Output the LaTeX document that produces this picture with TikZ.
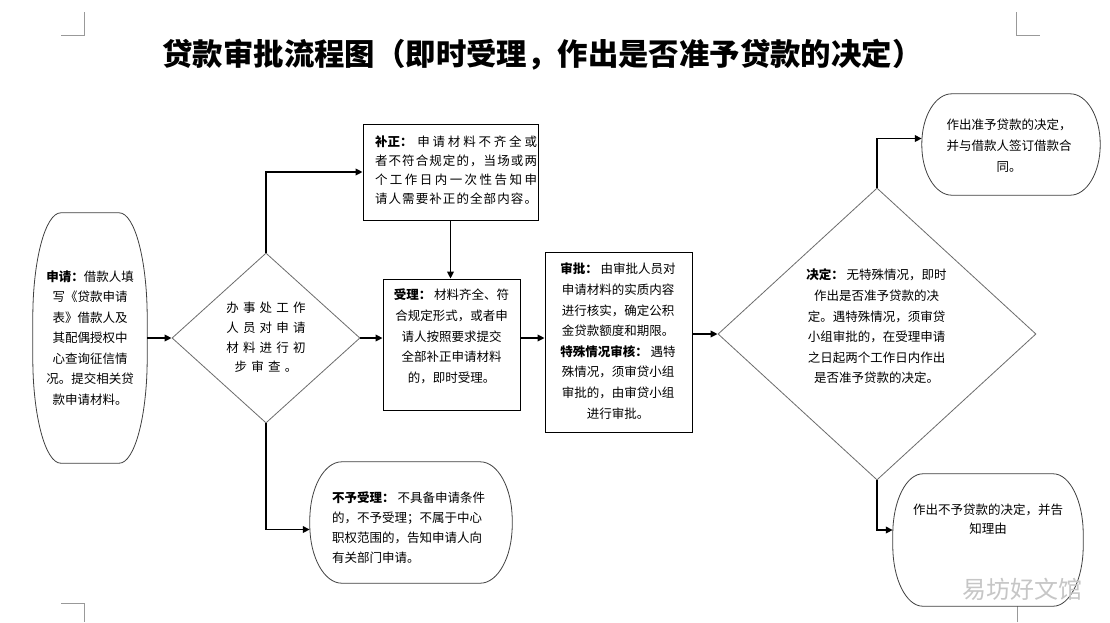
\documentclass[tikz,border=0pt]{standalone}
\usepackage{fontspec}
\setmainfont{Noto Sans CJK SC}
\usetikzlibrary{shapes.geometric,arrows.meta,calc}
\newcommand\gp{\hspace{4.2pt}}
\def\sprA#1{#1\sprB}
\def\sprB#1{\ifx#1\relax\else\hspace{0pt plus 1fil}#1\expandafter\sprB\fi}
\newcommand\spreadline[2]{\makebox[162pt][s]{#1\sprA #2\relax}}
\newcommand\stadiumshape[3]{%
\draw[outl] ($(#1.north west)+(#2,0)$) -- ($(#1.north east)+(-#2,0)$)
 .. controls ($(#1.north east)+({-0.45*#2},0)$) and ($(#1.north east)+(0,{0.45*#3})$) .. ($(#1.north east)+(0,#3)$)
 -- ($(#1.south east)+(0,-#3)$)
 .. controls ($(#1.south east)+(0,{-0.45*#3})$) and ($(#1.south east)+({-0.45*#2},0)$) .. ($(#1.south east)+(-#2,0)$)
 -- ($(#1.south west)+(#2,0)$)
 .. controls ($(#1.south west)+({0.45*#2},0)$) and ($(#1.south west)+(0,{-0.45*#3})$) .. ($(#1.south west)+(0,-#3)$)
 -- ($(#1.north west)+(0,#3)$)
 .. controls ($(#1.north west)+(0,{0.45*#3})$) and ($(#1.north west)+({0.45*#2},0)$) .. ($(#1.north west)+(#2,0)$) -- cycle;}
\begin{document}
\begin{tikzpicture}[x=1pt,y=-1pt,
  outl/.style={draw=black!75, line width=0.8pt, fill=white},
  holder/.style={draw=none, inner sep=0pt, rectangle},
  boxnode/.style={draw=black, line width=0.8pt, fill=white, inner sep=0pt, rectangle},
  dia/.style={diamond, draw=gray!85!black, line width=0.8pt, fill=white, inner sep=0pt},
  conn/.style={line width=1.8pt, -{Triangle[length=7pt,width=6.5pt]}},
  cropmark/.style={draw=gray!80, line width=0.8pt},
  txt/.style={font=\fontsize{12.5}{#1}\selectfont, inner sep=0pt, align=center},
  txt/.default=20.5]
\useasboundingbox (0,0) rectangle (1110,622);
\fill[white] (0,0) rectangle (1110,622);

% crop marks
\draw[cropmark] (61,35) -- (84,35) -- (84,12);
\draw[cropmark] (1016,12) -- (1016,35) -- (1040,35);
\draw[cropmark] (61,603) -- (84,603) -- (84,622);
\draw[cropmark] (1017,622) -- (1017,603) -- (1040,603);

% title
\node[font=\fontsize{30.4}{30.4}\selectfont\bfseries, inner sep=0pt] (title) at (542.5,55) {贷款审批流程图（即时受理，作出是否准予贷款的决定）};

% shapes
\node[holder, minimum width=114, minimum height=250] (L) at (90,338) {};
\stadiumshape{L}{28}{105}
\node[dia, minimum width=188, minimum height=170] (D1) at (266,338) {};
\node[boxnode, minimum width=175, minimum height=96] (T) at (450.5,172) {};
\node[boxnode, minimum width=137, minimum height=131] (M) at (451.5,344.5) {};
\node[boxnode, minimum width=147, minimum height=180] (R) at (618.5,342) {};
\node[dia, minimum width=318, minimum height=292] (D2) at (877,334) {};
\node[holder, minimum width=202, minimum height=121] (B) at (411,522.5) {};
\stadiumshape{B}{32}{58}
\node[holder, minimum width=178, minimum height=101] (TR) at (1011,144.5) {};
\stadiumshape{TR}{30}{50}
\node[holder, minimum width=190, minimum height=132] (BR) at (988,540) {};
\stadiumshape{BR}{30}{60}

% connectors
\draw[conn] (L.east) -- (D1.west);
\draw[conn] (D1.north) |- (T.west);
\draw[conn] (T.south) -- (T.south |- M.north);
\draw[conn] (D1.east) -- (D1.east -| M.west);
\draw[conn] (M.east |- D1.east) -- (R.west |- D1.east);
\draw[conn] (R.east |- D2.west) -- (D2.west);
\draw[conn] (D2.north) |- ($(TR.west)+(0,-6)$);
\draw[conn] (D2.south) |- ($(BR.west)+(0,-10)$);
\draw[conn] (D1.south) |- ($(B.west)+(0,7)$);

% texts
\node[txt=20.5] (tL) at (90,338) {\textbf{申请：}借款人填\\写《贷款申请\\表》借款人及\\其配偶授权中\\心查询征信情\\况。提交相关贷\\款申请材料。};
\node[txt=19.7] (tD1) at (266,337.5) {办\gp 事\gp 处\gp 工\gp 作\\人\gp 员\gp 对\gp 申\gp 请\\材\gp 料\gp 进\gp 行\gp 初\\步\gp 审\gp 查\gp 。};
\node[txt=19, align=left] (tT) at (456,170.5) {\spreadline{\textbf{补正：}\hspace{2pt plus 1fil}}{申请材料不齐全或}\\\spreadline{}{者不符合规定的，当场或两}\\\spreadline{}{个工作日内一次性告知申}\\\spreadline{}{请人需要补正的全部内容。}};
\node[txt=20.75] (tM) at (451.5,336.5) {\textbf{受理：}\ 材料齐全、符\\合规定形式，或者申\\请人按照要求提交\\全部补正申请材料\\的，即时受理。};
\node[txt=20.6] (tR) at (618,341) {\textbf{审批：}\ 由审批人员对\\申请材料的实质内容\\进行核实，确定公积\\金贷款额度和期限。\\\textbf{特殊情况审核：}\ 遇特\\殊情况，须审贷小组\\审批的，由审贷小组\\进行审批。};
\node[txt=20.6] (tD2) at (876.5,326.5) {\textbf{决定：}\ 无特殊情况，即时\\作出是否准予贷款的决\\定。遇特殊情况，须审贷\\小组审批的，在受理申请\\之日起两个工作日内作出\\是否准予贷款的决定。};
\node[txt=21] (tTR) at (1009,146) {作出准予贷款的决定，\\并与借款人签订借款合\\同。};
\node[txt=20, align=left, anchor=west] (tB) at (332,528) {\textbf{不予受理：}\ 不具备申请条件\\的，不予受理；不属于中心\\职权范围的，告知申请人向\\有关部门申请。};
\node[txt=19] (tBR) at (988,519.5) {作出不予贷款的决定，并告\\知理由};

% watermark
\node[font=\fontsize{24}{24}\selectfont, text=gray!45, inner sep=0pt] (wm) at (1022,589) {易坊好文馆};
\end{tikzpicture}
\end{document}
